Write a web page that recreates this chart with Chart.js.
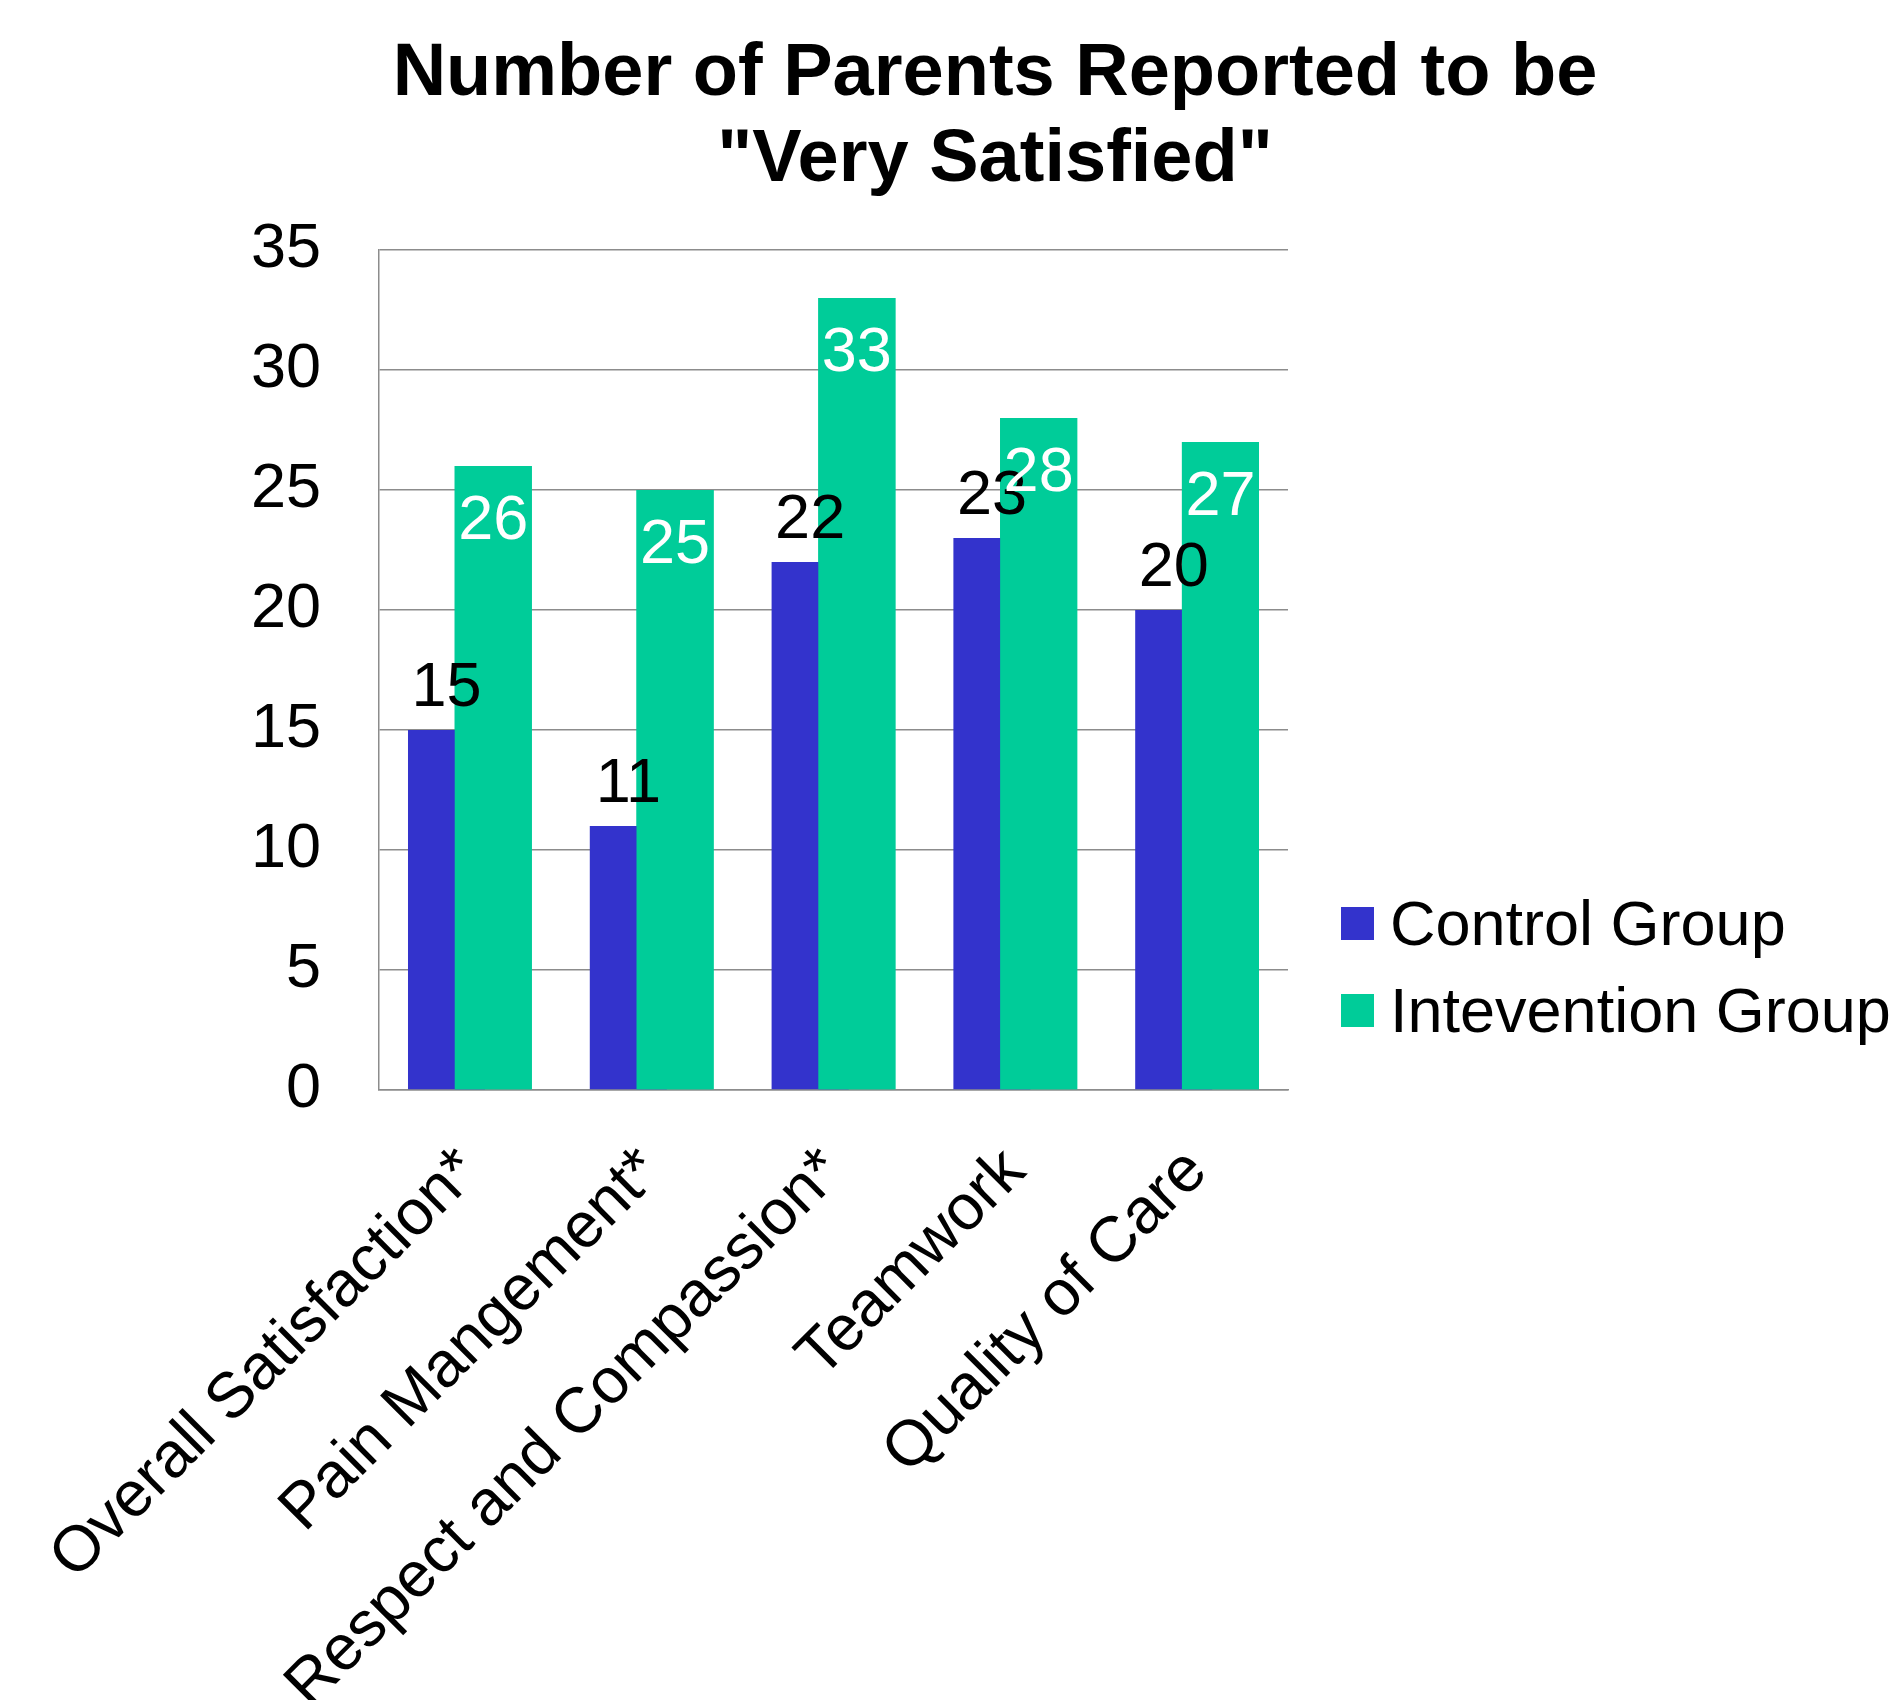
<!DOCTYPE html>
<html>
<head>
<meta charset="utf-8">
<title>Number of Parents Reported to be "Very Satisfied"</title>
<script src="https://cdn.jsdelivr.net/npm/chart.js@4.4.1/dist/chart.umd.min.js"></script>
<style>
  html, body { margin: 0; padding: 0; background: #fff; }
  #chart { display: block; }
</style>
</head>
<body>
<canvas id="chart" width="1890" height="1700"></canvas>
<script>
// data
const categories = [
  'Overall Satisfaction*',
  'Pain Mangement*',
  'Respect and Compassion*',
  'Teamwork',
  'Quality of Care'
];
const controlGroup = [15, 11, 22, 23, 20];
const interventionGroup = [26, 25, 33, 28, 27];
const seriesNames = ['Control Group', 'Intevention Group'];
const yTicks = [0, 5, 10, 15, 20, 25, 30, 35];
const titleLines = ['Number of Parents Reported to be', '"Very Satisfied"'];

const FONT = '"Liberation Sans", Arial, sans-serif';
const BLUE = '#3333cc';
const GREEN = '#00cc99';
const GRID = '#8c8c8c';

// bars overlap: chart.js paints series 0 last, so repaint the green series on top
const greenOnTop = {
  id: 'greenOnTop',
  afterDatasetDraw(chart, args) {
    if (args.index === 0) {
      chart.getDatasetMeta(1).controller.draw();
    }
  }
};

// value labels: control above the bar, intervention inside the top
const barLabels = {
  id: 'barLabels',
  afterDatasetsDraw(chart) {
    const ctx = chart.ctx;
    ctx.save();
    ctx.font = '63px ' + FONT;
    ctx.textAlign = 'center';
    ctx.textBaseline = 'alphabetic';
    chart.data.datasets.forEach((ds, i) => {
      chart.getDatasetMeta(i).data.forEach((bar, j) => {
        const v = ds.data[j];
        if (i === 0) {
          ctx.fillStyle = '#000';
          ctx.fillText(v, bar.x, bar.y - 24);
        } else {
          ctx.fillStyle = '#fff';
          ctx.fillText(v, bar.x, bar.y + 73);
        }
      });
    });
    ctx.restore();
  }
};

// title and legend placed like the original
const titleAndLegend = {
  id: 'titleAndLegend',
  afterDraw(chart) {
    const ctx = chart.ctx;
    ctx.save();
    ctx.fillStyle = '#000';
    ctx.textAlign = 'center';
    ctx.textBaseline = 'alphabetic';
    ctx.font = 'bold 74px ' + FONT;
    ctx.fillText(titleLines[0], 995, 95);
    ctx.fillText(titleLines[1], 995, 181);

    ctx.textAlign = 'left';
    ctx.font = '63px ' + FONT;
    chart.data.datasets.forEach((ds, i) => {
      const base = 945 + i * 87;
      ctx.fillStyle = ds.backgroundColor;
      ctx.fillRect(1341, base - 38, 33, 33);
      ctx.fillStyle = '#000';
      ctx.fillText(ds.label, 1390, base);
    });
    ctx.restore();
  }
};

const ctx = document.getElementById('chart').getContext('2d');
new Chart(ctx, {
  type: 'bar',
  data: {
    labels: categories,
    datasets: [
      {
        label: seriesNames[0],
        data: controlGroup,
        backgroundColor: BLUE,
        borderWidth: 0
      },
      {
        label: seriesNames[1],
        data: interventionGroup,
        backgroundColor: GREEN,
        borderWidth: 0
      }
    ]
  },
  options: {
    responsive: false,
    animation: false,
    devicePixelRatio: 1,
    layout: {
      padding: { top: 250, right: 602, bottom: 0, left: 0 }
    },
    datasets: {
      bar: {
        categoryPercentage: 0.514,
        barPercentage: 1.65
      }
    },
    plugins: {
      legend: { display: false },
      title: { display: false },
      tooltip: { enabled: false }
    },
    scales: {
      x: {
        grid: { display: false, drawTicks: false },
        border: { display: true, color: GRID, width: 1.5 },
        ticks: {
          color: '#000',
          font: { family: FONT, size: 64 },
          minRotation: 45,
          maxRotation: 45,
          autoSkip: false,
          padding: 44
        },
        afterFit(scale) {
          scale.height = 610;
          scale.paddingLeft = 0;
          scale.paddingRight = 0;
        }
      },
      y: {
        min: 0,
        max: 35,
        afterBuildTicks(scale) {
          scale.ticks = yTicks.map(v => ({ value: v }));
        },
        grid: { color: GRID, lineWidth: 1.5, drawTicks: false },
        border: { display: true, color: GRID, width: 1.5 },
        ticks: {
          color: '#000',
          font: { family: FONT, size: 63 },
          padding: 58
        },
        afterFit(scale) {
          scale.width = 379;
        }
      }
    }
  },
  plugins: [greenOnTop, barLabels, titleAndLegend]
});
</script>
</body>
</html>
